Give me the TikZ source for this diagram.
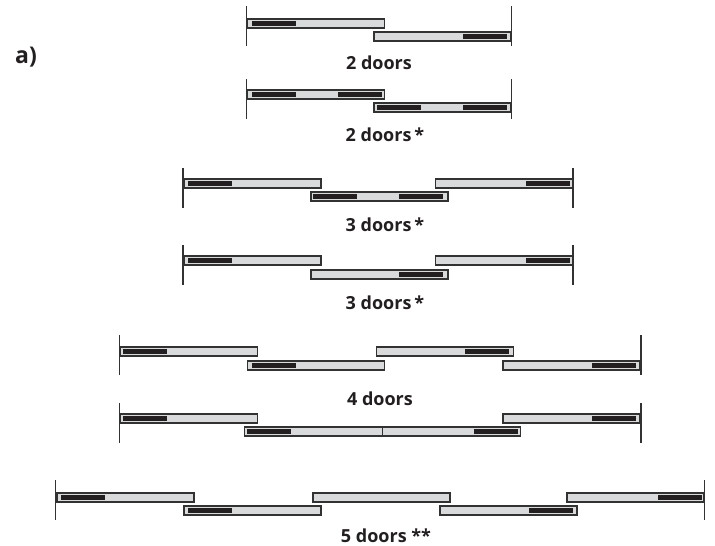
\documentclass[tikz,border=0pt]{standalone}
\usepackage{fontspec}
\usepackage{xcolor}
\setmainfont{Open Sans}
\definecolor{doorfill}{HTML}{D9DADB}
\definecolor{darkline}{HTML}{333233}
\definecolor{handlefill}{HTML}{231F20}

\begin{document}
\begin{tikzpicture}[
    x=1pt,
    y=-1pt,
    door/.style={rectangle, draw=darkline, line width=1.5pt, fill=doorfill, minimum width=137pt, minimum height=9pt, inner sep=0pt, outer sep=0pt},
    widedoor/.style={door, minimum width=276pt},
    handle/.style={rectangle, fill=handlefill, minimum width=44pt, minimum height=5pt, inner sep=0pt, outer sep=0pt},
    wall/.style={rectangle, fill=darkline, minimum width=1.4pt, minimum height=40pt, inner sep=0pt, outer sep=0pt},
    divider/.style={rectangle, fill=darkline, minimum width=1.4pt, minimum height=9pt, inner sep=0pt, outer sep=0pt},
    caption/.style={font=\bfseries\fontsize{18}{20}\selectfont, text=handlefill, inner sep=0pt}
]
\useasboundingbox (0,0) rectangle (715,546);

\node[caption, font=\bfseries\fontsize{23}{26}\selectfont] (part_a) at (26,57) {a)};

% 2 doors
\node[door] (r1_d1) at (316,23.5) {};
\node[door] (r1_d2) at (442.3,36.5) {};
\node[handle] (r1_h1) at (274,23.5) {};
\node[handle] (r1_h2) at (485,36.5) {};
\node[wall] (r1_wl) at (246.5,26) {};
\node[wall] (r1_wr) at (511.5,26) {};
\node[caption] (r1_label) at (379,62.5) {2 doors};

% 2 doors, two handles each
\node[door] (r2_d1) at (316,94.5) {};
\node[door] (r2_d2) at (442.3,107.5) {};
\node[handle] (r2_h1) at (274,94.5) {};
\node[handle] (r2_h2) at (360,94.5) {};
\node[handle] (r2_h3) at (399,107.5) {};
\node[handle] (r2_h4) at (485,107.5) {};
\node[wall] (r2_wl) at (246.5,99) {};
\node[wall] (r2_wr) at (511.5,99) {};
\node[caption] (r2_label) at (385,134.5) {2 doors\,*};

% 3 doors
\node[door] (r3_d1) at (252.5,183.5) {};
\node[door] (r3_d2) at (379.3,196.5) {};
\node[door] (r3_d3) at (504,183.5) {};
\node[handle] (r3_h1) at (210,183.5) {};
\node[handle] (r3_h2) at (335,196.5) {};
\node[handle] (r3_h3) at (421,196.5) {};
\node[handle] (r3_h4) at (548,183.5) {};
\node[wall] (r3_wl) at (183,188) {};
\node[wall] (r3_wr) at (573,188) {};
\node[caption] (r3_label) at (385,225) {3 doors\,*};

% 3 doors, one handle in the middle
\node[door] (r4_d1) at (252.5,260.5) {};
\node[door] (r4_d2) at (379.3,274.5) {};
\node[door] (r4_d3) at (504,260.5) {};
\node[handle] (r4_h1) at (210,260.5) {};
\node[handle] (r4_h2) at (421,274.5) {};
\node[handle] (r4_h3) at (548,260.5) {};
\node[wall] (r4_wl) at (183,265) {};
\node[wall] (r4_wr) at (573,265) {};
\node[caption] (r4_label) at (385,302.5) {3 doors\,*};

% 4 doors
\node[door] (r5_d1) at (189,351.5) {};
\node[door] (r5_d2) at (316,365.5) {};
\node[door] (r5_d3) at (445,351.5) {};
\node[door] (r5_d4) at (571.5,365.5) {};
\node[handle] (r5_h1) at (145,351.5) {};
\node[handle] (r5_h2) at (274,365.5) {};
\node[handle] (r5_h3) at (487,351.5) {};
\node[handle] (r5_h4) at (614,365.5) {};
\node[wall] (r5_wl) at (119.7,355) {};
\node[wall] (r5_wr) at (641,355) {};
\node[caption] (r5_label) at (380,398.5) {4 doors};

% 4 doors, middle pair meeting
\node[door] (r6_d1) at (189,418.5) {};
\node[widedoor] (r6_d2) at (382.7,431.5) {};
\node[door] (r6_d3) at (571.5,418.5) {};
\node[handle] (r6_h1) at (145,418.5) {};
\node[handle] (r6_h2) at (269,431.5) {};
\node[handle] (r6_h3) at (496,431.5) {};
\node[handle] (r6_h4) at (614,418.5) {};
\node[divider] (r6_mid) at (382.7,431.5) {};
\node[wall] (r6_wl) at (119.7,423) {};
\node[wall] (r6_wr) at (641,423) {};

% 5 doors
\node[door] (r7_d1) at (125.5,497.5) {};
\node[door] (r7_d2) at (252.3,510.5) {};
\node[door] (r7_d3) at (381.5,497.5) {};
\node[door] (r7_d4) at (508.5,510.5) {};
\node[door] (r7_d5) at (635.5,497.5) {};
\node[handle] (r7_h1) at (83,497.5) {};
\node[handle] (r7_h2) at (210,510.5) {};
\node[handle] (r7_h3) at (551,510.5) {};
\node[handle] (r7_h4) at (680,497.5) {};
\node[wall] (r7_wl) at (55.7,500.3) {};
\node[wall] (r7_wr) at (704.7,500.3) {};
\node[caption] (r7_label) at (386,535.5) {5 doors **};

\end{tikzpicture}
\end{document}
